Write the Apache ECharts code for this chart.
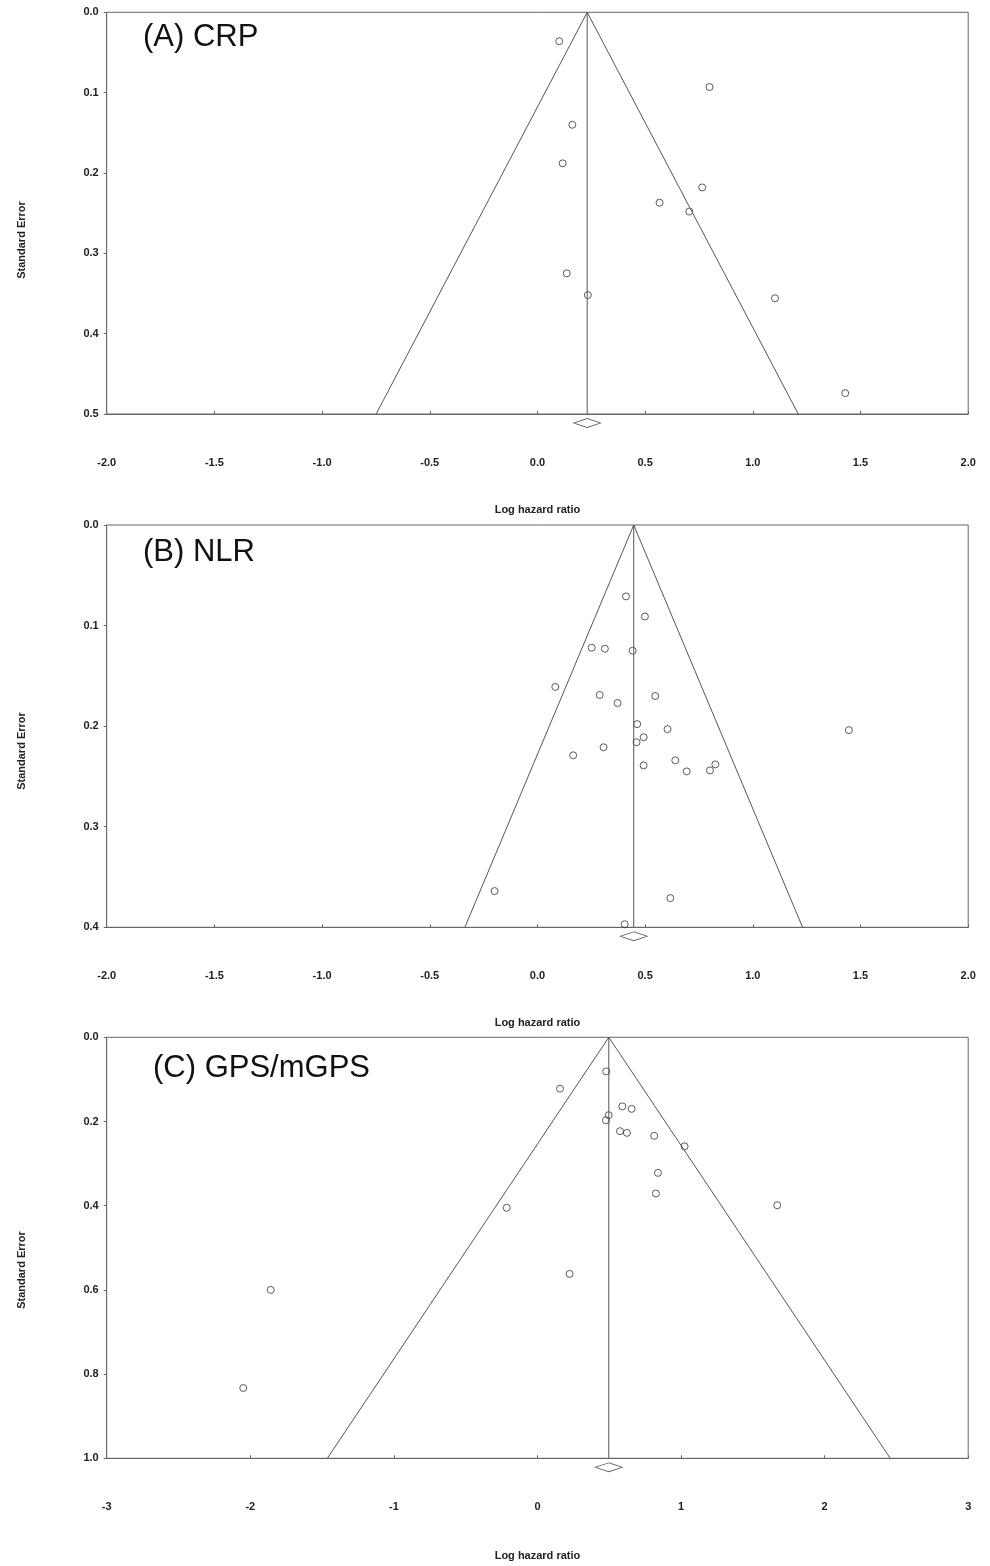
<!DOCTYPE html>
<html>
<head>
<meta charset="utf-8">
<script src="https://cdn.jsdelivr.net/npm/echarts@6/dist/echarts.min.js"></script>
<style>
html,body{margin:0;padding:0;background:#fff;}
#chart{width:990px;height:1566px;}
</style>
</head>
<body>
<div id="chart"></div>
<script>
// ---- Data (log hazard ratio, standard error) ----
const pointsA = [
  [0.101,0.036],[0.799,0.093],[0.162,0.140],[0.117,0.188],[0.765,0.218],
  [0.567,0.237],[0.705,0.248],[0.136,0.325],[0.234,0.352],[1.103,0.356],[1.429,0.474]
];
const pointsB = [
  [0.411,0.071],[0.499,0.091],[0.252,0.122],[0.313,0.123],[0.442,0.125],
  [0.083,0.161],[0.289,0.169],[0.372,0.177],[0.547,0.170],[0.463,0.198],
  [0.604,0.203],[1.446,0.204],[0.493,0.211],[0.460,0.216],[0.166,0.229],
  [0.307,0.221],[0.493,0.239],[0.640,0.234],[0.693,0.245],[0.801,0.244],
  [0.826,0.238],[-0.199,0.364],[0.617,0.371],[0.405,0.397]
];
const pointsC = [
  [0.479,0.081],[0.157,0.122],[0.591,0.164],[0.656,0.170],[0.496,0.185],
  [0.477,0.197],[0.575,0.223],[0.623,0.227],[0.813,0.234],[1.025,0.259],
  [0.839,0.322],[0.825,0.371],[-0.214,0.405],[1.670,0.399],[0.224,0.562],
  [-1.858,0.600],[-2.049,0.833]
];
// pooled estimates and funnel limits
const pooledA = 0.231, pooledB = 0.447, pooledC = 0.497;
const funnelA = [[-0.749,0.5],[0.231,0],[1.211,0.5]];
const funnelB = [[-0.337,0.4],[0.447,0],[1.231,0.4]];
const funnelC = [[-1.463,1.0],[0.497,0],[2.457,1.0]];
const titles = ['(A) CRP','(B) NLR','(C) GPS/mGPS'];
const xName = 'Log hazard ratio';
const yName = 'Standard Error';

const panels = [
  {top:12.3, height:401.7, xmin:-2, xmax:2, xint:0.5, xdec:1, ymax:0.5, yint:0.1, pts:pointsA, pooled:pooledA, funnel:funnelA, nameGap:90, titleY:37.5, titleX:143, seY:240},
  {top:525, height:402.3, xmin:-2, xmax:2, xint:0.5, xdec:1, ymax:0.4, yint:0.1, pts:pointsB, pooled:pooledB, funnel:funnelB, nameGap:90, titleY:552, titleX:143, seY:751},
  {top:1037.3, height:421, xmin:-3, xmax:3, xint:1, xdec:0, ymax:1.0, yint:0.2, pts:pointsC, pooled:pooledC, funnel:funnelC, nameGap:92, titleY:1068, titleX:153, seY:1270}
];

const FONT = "'Liberation Sans', Arial, sans-serif";
const axisCol = '#666';
const lineCol = '#555';
const labelStyle = {color:'#222', fontSize:11, fontWeight:'bold', fontFamily:FONT};

const grid = [], xAxis = [], yAxis = [], series = [], graphic = [];
panels.forEach((p,i)=>{
  grid.push({left:106.7, top:p.top, width:861.5, height:p.height, show:true, borderColor:axisCol, borderWidth:1, backgroundColor:'transparent'});
  xAxis.push({
    gridIndex:i, type:'value', min:p.xmin, max:p.xmax, interval:p.xint,
    axisLine:{show:true, onZero:false, lineStyle:{color:axisCol, width:1}},
    axisTick:{show:true, inside:true, length:3, lineStyle:{color:axisCol}},
    splitLine:{show:false},
    axisLabel:Object.assign({margin:43, formatter:v=>v.toFixed(p.xdec)}, labelStyle),
    name:xName, nameLocation:'middle', nameGap:p.nameGap,
    nameTextStyle:labelStyle
  });
  yAxis.push({
    gridIndex:i, type:'value', min:0, max:p.ymax, interval:p.yint, inverse:true,
    axisLine:{show:true, onZero:false, lineStyle:{color:axisCol, width:1}},
    axisTick:{show:true, inside:false, length:3, lineStyle:{color:axisCol}},
    splitLine:{show:false},
    axisLabel:Object.assign({margin:8, formatter:v=>v.toFixed(1)}, labelStyle)
  });
  series.push({
    type:'line', xAxisIndex:i, yAxisIndex:i, data:p.funnel, symbol:'none',
    lineStyle:{color:lineCol, width:1}, silent:true, animation:false
  });
  series.push({
    type:'line', xAxisIndex:i, yAxisIndex:i, data:[[p.pooled,0],[p.pooled,p.ymax]], symbol:'none',
    lineStyle:{color:lineCol, width:1}, silent:true, animation:false
  });
  series.push({
    type:'scatter', xAxisIndex:i, yAxisIndex:i, data:p.pts, symbol:'circle', symbolSize:7,
    itemStyle:{color:'rgba(255,255,255,0)', borderColor:'#333', borderWidth:1}, animation:false
  });
  series.push({
    type:'scatter', xAxisIndex:i, yAxisIndex:i, data:[[p.pooled,p.ymax]], symbol:'diamond',
    symbolSize:[27,9], symbolOffset:[0,9], clip:false,
    itemStyle:{color:'#fff', borderColor:'#333', borderWidth:1}, animation:false
  });
  graphic.push({type:'text', x:p.titleX, y:p.titleY, style:{text:titles[i], font:'31px '+FONT, fill:'#111', align:'left', verticalAlign:'middle'}});
  graphic.push({type:'text', x:21.7, y:p.seY, rotation:Math.PI/2, style:{text:yName, font:'bold 11px '+FONT, fill:'#222', align:'center', verticalAlign:'middle'}});
});

const chart = echarts.init(document.getElementById('chart'), null, {renderer:'canvas'});
chart.setOption({animation:false, backgroundColor:'#fff', grid, xAxis, yAxis, series, graphic});
</script>
</body>
</html>
